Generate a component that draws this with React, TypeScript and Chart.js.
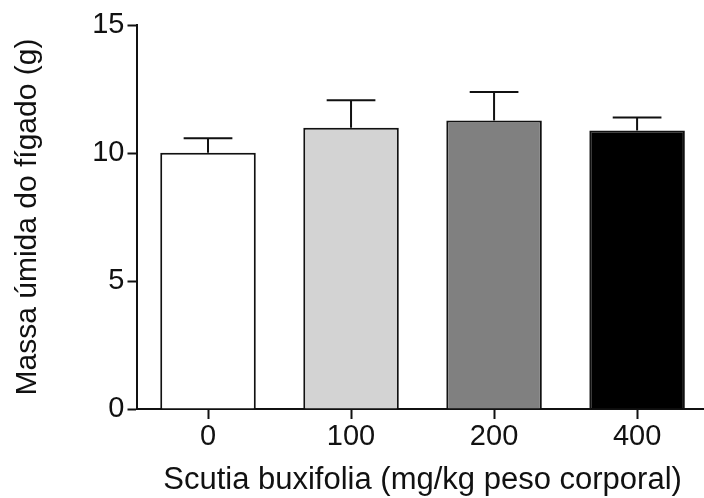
import React, { useEffect, useRef } from "react";
import { Chart, registerables } from "chart.js";

Chart.register(...registerables);

const categories = ["0", "100", "200", "400"];
const means = [10.01, 10.99, 11.27, 10.88];
const sems = [0.57, 1.07, 1.11, 0.51];
const barColors = ["#ffffff", "#d3d3d3", "#808080", "#000000"];
const yTicks = [0, 5, 10, 15];
const yTitle = "Massa úmida do fígado (g)";
const xTitle = "Scutia buxifolia (mg/kg peso corporal)";

const FONT = "'Liberation Sans', Arial, sans-serif";

const errorBarPlugin = {
  id: "errorBars",
  afterDatasetsDraw(chart: any) {
    const meta = chart.getDatasetMeta(0);
    const yScale = chart.scales.y;
    const ctx = chart.ctx;
    ctx.save();
    ctx.strokeStyle = "#111111";
    ctx.lineWidth = 2;
    meta.data.forEach((el: any, i: number) => {
      const top = yScale.getPixelForValue(means[i] + sems[i]);
      const half = el.width * 0.255;
      ctx.beginPath();
      ctx.moveTo(el.x, el.y);
      ctx.lineTo(el.x, top);
      ctx.moveTo(el.x - half, top);
      ctx.lineTo(el.x + half, top);
      ctx.stroke();
    });
    ctx.restore();
  },
};

export default function App() {
  const ref = useRef<HTMLCanvasElement>(null);
  useEffect(() => {
    if (!ref.current) return;
    const chart = new Chart(ref.current, {
      type: "bar",
      data: {
        labels: categories,
        datasets: [
          {
            data: means,
            backgroundColor: barColors,
            borderColor: "#111111",
            borderWidth: 2,
            barPercentage: 0.668,
            categoryPercentage: 1,
          },
        ],
      },
      options: {
        responsive: false,
        animation: false,
        layout: { padding: { left: 0, top: 25, right: 11.4, bottom: 0 } },
        plugins: { legend: { display: false }, tooltip: { enabled: false } },
        scales: {
          x: {
            grid: {
              display: true,
              drawOnChartArea: false,
              drawTicks: true,
              tickLength: 10,
              tickColor: "#111111",
              tickWidth: 2,
              offset: false,
            },
            border: { display: true, color: "#111111", width: 2 },
            ticks: {
              color: "#111111",
              font: { family: FONT, size: 29 },
              padding: 1,
            },
            title: {
              display: true,
              text: xTitle,
              color: "#111111",
              font: { family: FONT, size: 31 },
              padding: { top: 2, bottom: -1 },
            },
            afterFit(scale: any) {
              scale.height = 89;
            },
          },
          y: {
            min: 0,
            max: 15,
            afterBuildTicks(scale: any) {
              scale.ticks = yTicks.map((v) => ({ value: v }));
            },
            grid: {
              display: true,
              drawOnChartArea: false,
              drawTicks: true,
              tickLength: 9,
              tickColor: "#111111",
              tickWidth: 2,
            },
            border: { display: true, color: "#111111", width: 2 },
            ticks: {
              color: "#111111",
              font: { family: FONT, size: 29 },
              padding: 3,
            },
            title: {
              display: true,
              text: yTitle,
              color: "#111111",
              font: { family: FONT, size: 30 },
              padding: { top: 10, bottom: 0 },
            },
            afterFit(scale: any) {
              scale.width = 136.5;
            },
          },
        },
      },
      plugins: [errorBarPlugin],
    });
    return () => chart.destroy();
  }, []);
  return (
    <div
      style={{
        position: "fixed",
        left: 0,
        top: 0,
        width: 704,
        height: 498,
        overflow: "hidden",
        background: "#ffffff",
      }}
    >
      <canvas ref={ref} width={720} height={498} />
    </div>
  );
}
